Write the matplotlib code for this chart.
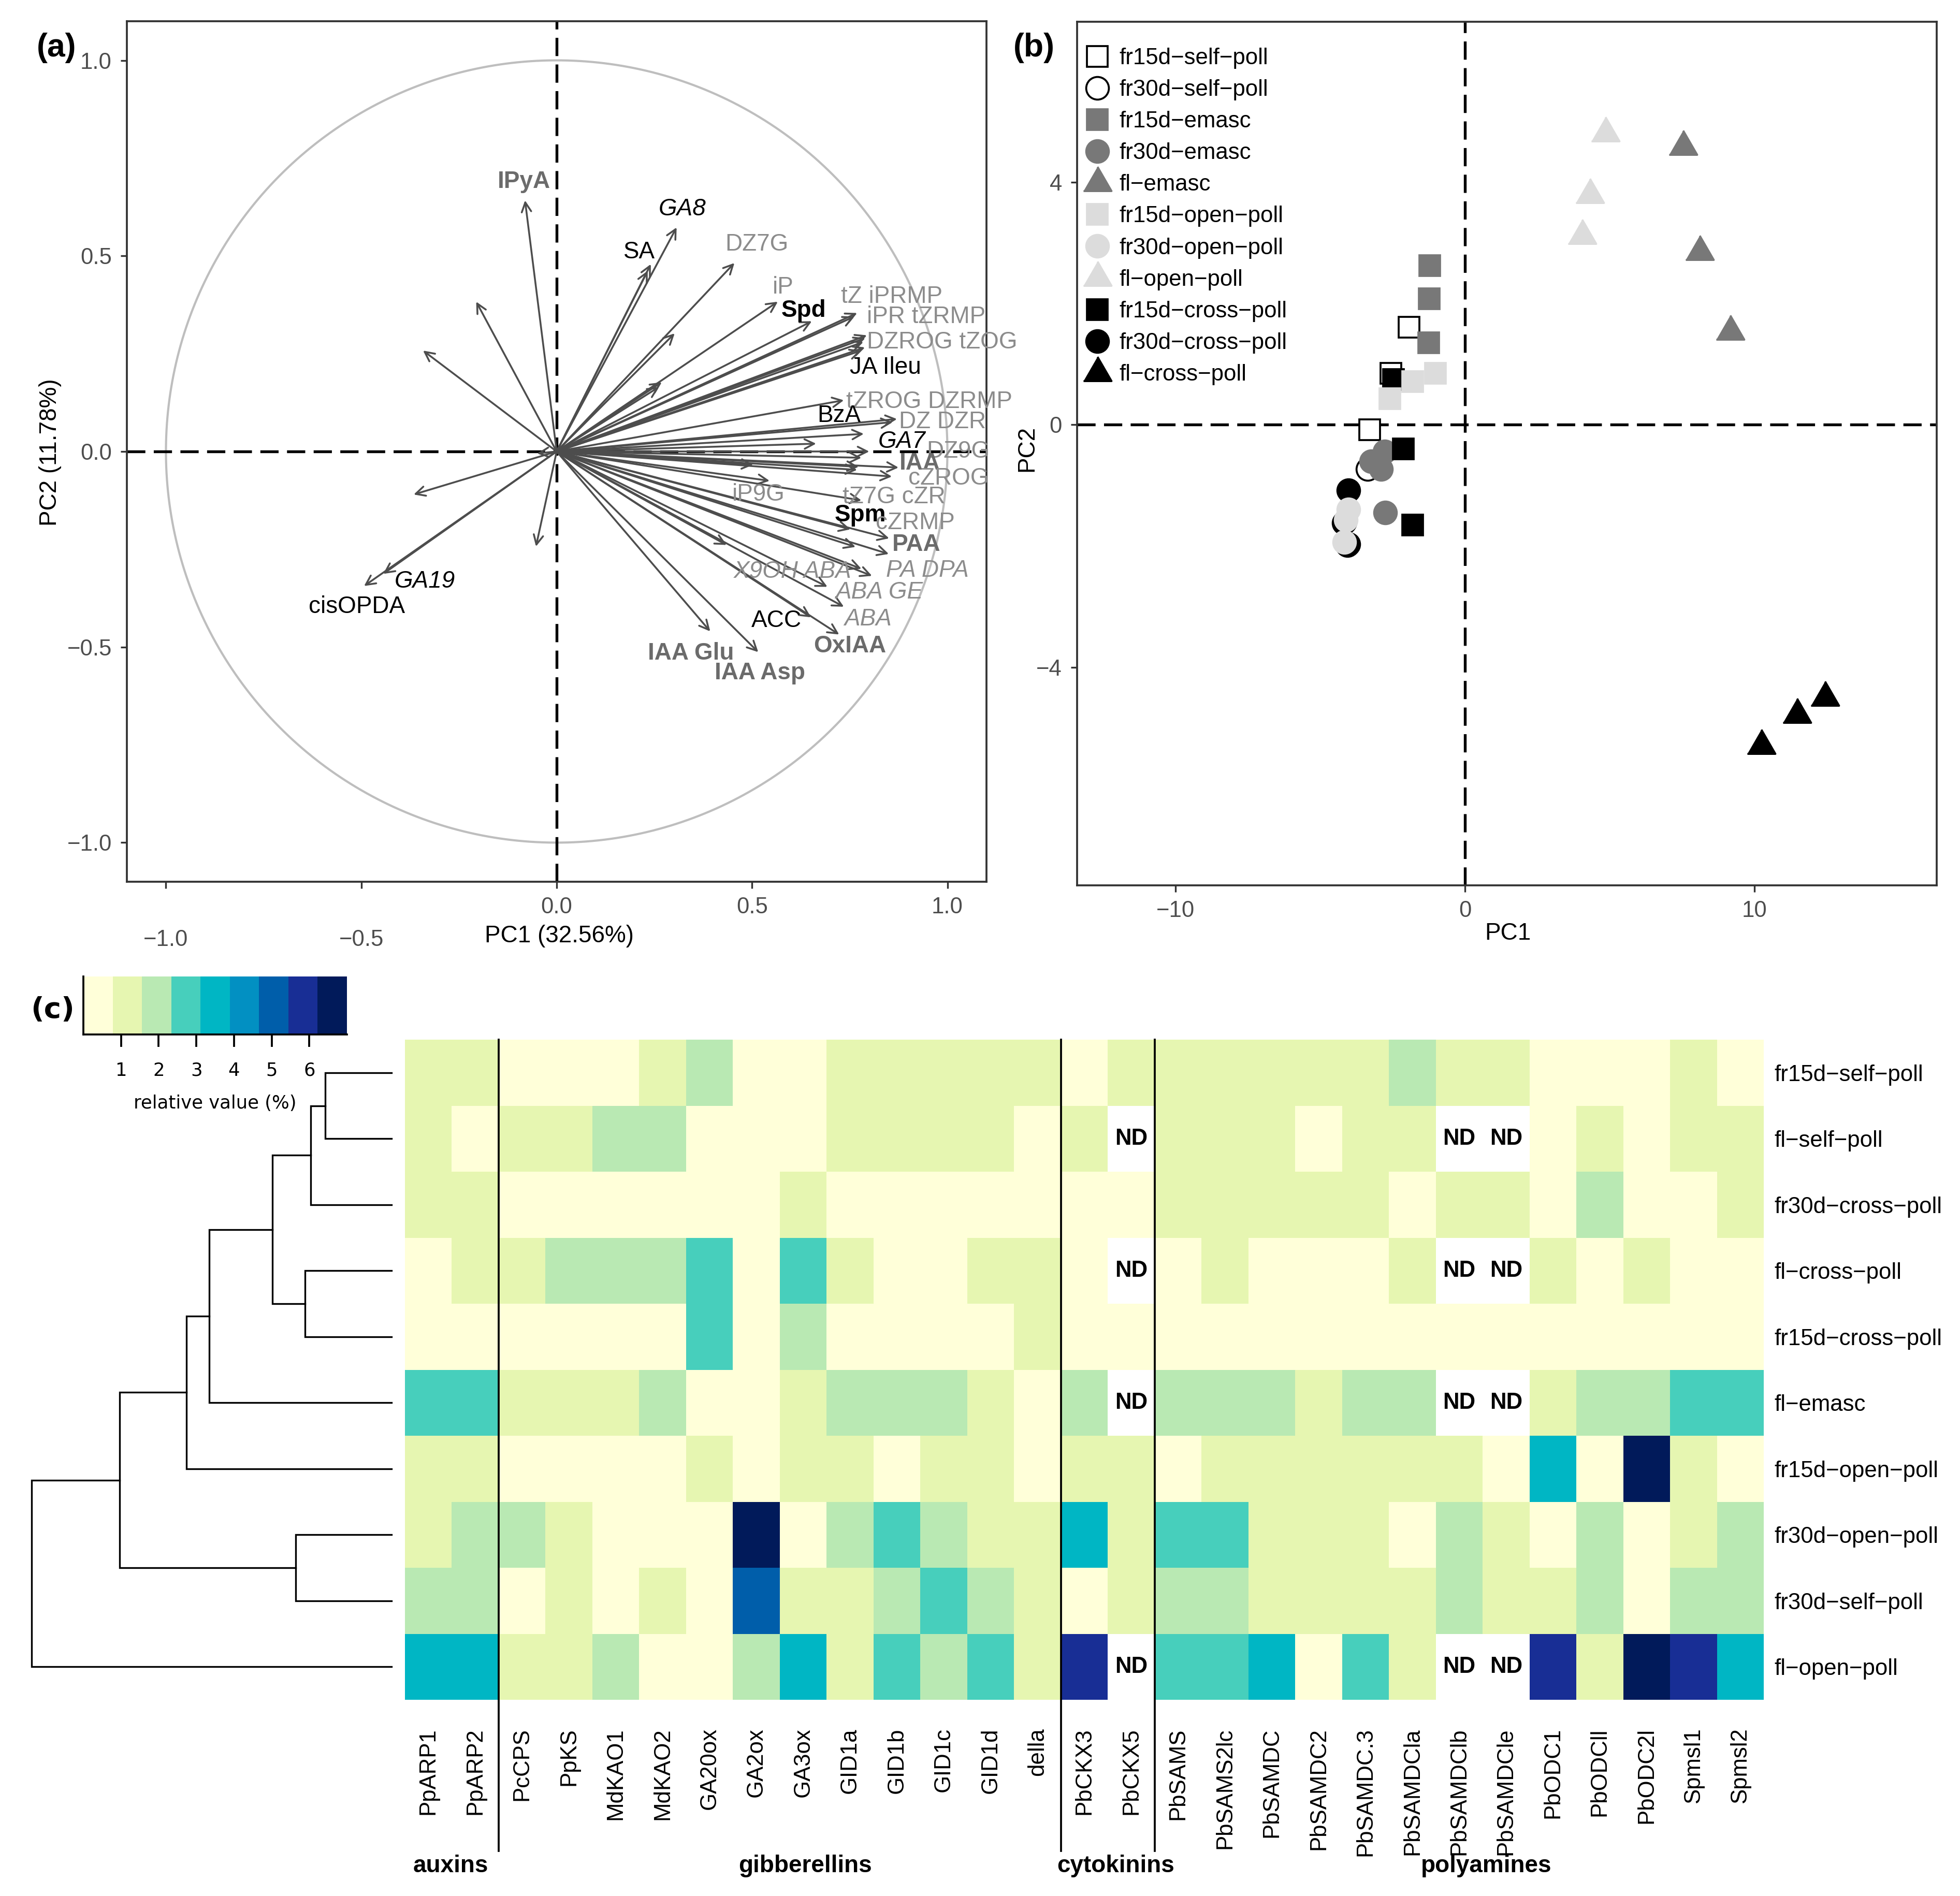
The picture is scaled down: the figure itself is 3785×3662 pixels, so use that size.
import numpy as np
import matplotlib
matplotlib.use('Agg')
import matplotlib.pyplot as plt
from matplotlib.colors import ListedColormap, BoundaryNorm
from matplotlib.lines import Line2D
import matplotlib.transforms as mtransforms

plt.rcParams['font.family'] = ['Liberation Sans', 'DejaVu Sans']
plt.rcParams['font.size'] = 10.5
plt.rcParams['axes.unicode_minus'] = True

# ---------------- Panel (a): loadings ----------------
arrow_pc1 = [-0.081, -0.206, -0.342, -0.366, -0.053, -0.444, -0.493, -0.05,
             0.307, 0.241, 0.233, 0.455, 0.302, 0.269, 0.262, 0.566, 0.653,
             0.769, 0.762, 0.794, 0.790, 0.785, 0.789, 0.780, 0.735, 0.871,
             0.860, 0.786, 0.664, 0.800, 0.780, 0.875, 0.773, 0.858, 0.769,
             0.545, 0.503, 0.780, 0.752, 0.851, 0.850, 0.765, 0.807, 0.780,
             0.435, 0.693, 0.735, 0.651, 0.723, 0.393, 0.516]
arrow_pc2 = [0.642, 0.383, 0.258, -0.110, -0.243, -0.313, -0.344, -0.005,
             0.573, 0.479, 0.462, 0.482, 0.302, 0.177, 0.165, 0.383, 0.333,
             0.354, 0.345, 0.297, 0.290, 0.280, 0.266, 0.258, 0.131, 0.083,
             0.075, 0.045, 0.020, 0.000, -0.016, -0.041, -0.039, -0.064, -0.047,
             -0.075, -0.034, -0.125, -0.199, -0.222, -0.262, -0.244, -0.318, -0.300,
             -0.239, -0.346, -0.397, -0.424, -0.468, -0.460, -0.513]

label_text = ['IPyA', 'GA8', 'SA', 'DZ7G', 'iP', 'Spd', 'tZ iPRMP', 'iPR tZRMP',
              'DZROG tZOG', 'JA Ileu', 'tZROG DZRMP', 'BzA', 'DZ DZR', 'GA7',
              'DZ9G', 'IAA', 'cZROG', 'iP9G', 'tZ7G cZR', 'Spm', 'cZRMP', 'PAA',
              'PA DPA', 'X9OH ABA', 'ABA GE', 'ABA', 'ACC', 'OxIAA', 'IAA Glu',
              'IAA Asp', 'GA19', 'cisOPDA']
label_pc1 = [-0.083, 0.322, 0.211, 0.512, 0.579, 0.632, 0.858, 0.946,
             0.987, 0.842, 0.954, 0.723, 0.987, 0.884,
             1.028, 0.929, 1.003, 0.516, 0.863, 0.777, 0.917, 0.921,
             0.949, 0.604, 0.825, 0.797, 0.563, 0.751, 0.343,
             0.520, -0.338, -0.512]
label_pc2 = [0.689, 0.620, 0.509, 0.529, 0.419, 0.360, 0.396, 0.344,
             0.279, 0.214, 0.127, 0.091, 0.075, 0.025,
             0.000, -0.031, -0.069, -0.110, -0.116, -0.163, -0.183, -0.238,
             -0.304, -0.307, -0.360, -0.429, -0.433, -0.498, -0.516,
             -0.566, -0.332, -0.397]
label_class = ['gb', 'ki', 'k', 'lg', 'lg', 'kb', 'lg', 'lg',
               'lg', 'k', 'lg', 'k', 'lg', 'ki',
               'lg', 'gb', 'lg', 'lg', 'lg', 'kb', 'lg', 'gb',
               'li', 'li', 'li', 'li', 'k', 'gb', 'gb',
               'gb', 'ki', 'k']

# ---------------- Panel (b): scores ----------------
group_names = ['fr15d−self−poll', 'fr30d−self−poll', 'fr15d−emasc', 'fr30d−emasc',
               'fl−emasc', 'fr15d−open−poll', 'fr30d−open−poll', 'fl−open−poll',
               'fr15d−cross−poll', 'fr30d−cross−poll', 'fl−cross−poll']
group_pc1 = [[-1.93, -2.56, -3.30], [-3.37, -4.15, -4.02], [-1.21, -1.23, -1.26],
             [-2.77, -3.24, -2.90, -2.75], [7.54, 8.11, 9.16], [-1.02, -1.81, -2.59],
             [-4.02, -4.12, -4.17], [4.85, 4.31, 4.05], [-2.47, -2.12, -1.80],
             [-4.03, -4.06, -4.18], [12.44, 11.47, 10.23]]
group_pc2 = [[1.61, 0.85, -0.08], [-0.73, -1.60, -1.97], [2.63, 2.08, 1.35],
             [-0.44, -0.60, -0.73, -1.45], [4.59, 2.86, 1.54], [0.85, 0.71, 0.43],
             [-1.40, -1.57, -1.94], [4.81, 3.80, 3.12], [0.75, -0.40, -1.65],
             [-1.08, -1.99, -1.62], [-4.50, -4.78, -5.29]]

# ---------------- Panel (c): heatmap ----------------
row_names = ['fr15d−self−poll', 'fl−self−poll', 'fr30d−cross−poll', 'fl−cross−poll',
             'fr15d−cross−poll', 'fl−emasc', 'fr15d−open−poll', 'fr30d−open−poll',
             'fr30d−self−poll', 'fl−open−poll']
auxin_genes = ['PpARP1', 'PpARP2']
gib_genes = ['PcCPS', 'PpKS', 'MdKAO1', 'MdKAO2', 'GA20ox', 'GA2ox', 'GA3ox',
             'GID1a', 'GID1b', 'GID1c', 'GID1d', 'della']
cyt_genes = ['PbCKX3', 'PbCKX5']
poly_genes = ['PbSAMS', 'PbSAMS2lc', 'PbSAMDC', 'PbSAMDC2', 'PbSAMDC.3', 'PbSAMDCla',
              'PbSAMDClb', 'PbSAMDCle', 'PbODC1', 'PbODCll', 'PbODC2l', 'Spmsl1', 'Spmsl2']
ND = np.nan
auxin_vals = [[1.2, 1.2], [1.2, 0.4], [1.2, 1.2], [0.4, 1.2], [0.4, 0.4],
              [2.7, 2.7], [1.2, 1.2], [1.2, 1.9], [1.9, 1.9], [3.5, 3.5]]
gib_vals = [[0.4, 0.4, 0.4, 1.2, 1.9, 0.4, 0.4, 1.2, 1.2, 1.2, 1.2, 1.2],
            [1.2, 1.2, 1.9, 1.9, 0.4, 0.4, 0.4, 1.2, 1.2, 1.2, 1.2, 0.4],
            [0.4, 0.4, 0.4, 0.4, 0.4, 0.4, 1.2, 0.4, 0.4, 0.4, 0.4, 0.4],
            [1.2, 1.9, 1.9, 1.9, 2.7, 0.4, 2.7, 1.2, 0.4, 0.4, 1.2, 1.2],
            [0.4, 0.4, 0.4, 0.4, 2.7, 0.4, 1.9, 0.4, 0.4, 0.4, 0.4, 1.2],
            [1.2, 1.2, 1.2, 1.9, 0.4, 0.4, 1.2, 1.9, 1.9, 1.9, 1.2, 0.4],
            [0.4, 0.4, 0.4, 0.4, 1.2, 0.4, 1.2, 1.2, 0.4, 1.2, 1.2, 0.4],
            [1.9, 1.2, 0.4, 0.4, 0.4, 6.6, 0.4, 1.9, 2.7, 1.9, 1.2, 1.2],
            [0.4, 1.2, 0.4, 1.2, 0.4, 5.1, 1.2, 1.2, 1.9, 2.7, 1.9, 1.2],
            [1.2, 1.2, 1.9, 0.4, 0.4, 1.9, 3.5, 1.2, 2.7, 1.9, 2.7, 1.2]]
cyt_vals = [[0.4, 1.2], [1.2, ND], [0.4, 0.4], [0.4, ND], [0.4, 0.4],
            [1.9, ND], [1.2, 1.2], [3.5, 1.2], [0.4, 1.2], [5.8, ND]]
poly_vals = [[1.2, 1.2, 1.2, 1.2, 1.2, 1.9, 1.2, 1.2, 0.4, 0.4, 0.4, 1.2, 0.4],
             [1.2, 1.2, 1.2, 0.4, 1.2, 1.2, ND, ND, 0.4, 1.2, 0.4, 1.2, 1.2],
             [1.2, 1.2, 1.2, 1.2, 1.2, 0.4, 1.2, 1.2, 0.4, 1.9, 0.4, 0.4, 1.2],
             [0.4, 1.2, 0.4, 0.4, 0.4, 1.2, ND, ND, 1.2, 0.4, 1.2, 0.4, 0.4],
             [0.4, 0.4, 0.4, 0.4, 0.4, 0.4, 0.4, 0.4, 0.4, 0.4, 0.4, 0.4, 0.4],
             [1.9, 1.9, 1.9, 1.2, 1.9, 1.9, ND, ND, 1.2, 1.9, 1.9, 2.7, 2.7],
             [0.4, 1.2, 1.2, 1.2, 1.2, 1.2, 1.2, 0.4, 3.5, 0.4, 6.6, 1.2, 0.4],
             [2.7, 2.7, 1.2, 1.2, 1.2, 0.4, 1.9, 1.2, 0.4, 1.9, 0.4, 1.2, 1.9],
             [1.9, 1.9, 1.2, 1.2, 1.2, 1.2, 1.9, 1.2, 1.2, 1.9, 0.4, 1.9, 1.9],
             [2.7, 2.7, 3.5, 0.4, 2.7, 1.2, ND, ND, 5.8, 1.2, 6.6, 5.8, 3.5]]
group_labels = ['auxins', 'gibberellins', 'cytokinins', 'polyamines']

# dendrogram merges: (left node, right node, height); leaves 0..9 in row order
dendro_merges = [(0, 1, 0.184), (10, 2, 0.224), (3, 4, 0.240), (11, 12, 0.331),
                 (13, 5, 0.506), (14, 6, 0.570), (7, 8, 0.266), (15, 16, 0.755),
                 (17, 9, 1.0)]

heat_colors = ['#FFFFD9', '#E6F6B1', '#B9E9B3', '#47CFBC', '#00B6C4',
               '#0290C2', '#005EAA', '#182E95', '#011A5A']
heat_bounds = np.linspace(0, 7, 10)

# ---------------- figure ----------------
W, H, DPI = 3786, 3662, 300
fig = plt.figure(figsize=(W / DPI, H / DPI), dpi=DPI)


def rect(x0, y0, x1, y1):
    return [x0 / W, 1 - y1 / H, (x1 - x0) / W, (y1 - y0) / H]


TICKC = '#4D4D4D'

# ---- (a)
axa = fig.add_axes(rect(245, 41, 1905, 1703))
axa.set_xlim(-1.1, 1.1)
axa.set_ylim(-1.1, 1.1)
t = np.linspace(0, 2 * np.pi, 400)
axa.plot(np.cos(t), np.sin(t), color='#BEBEBE', lw=1.0, zorder=1)
axa.axhline(0, color='black', lw=1.3, ls=(0, (6.5, 3)), zorder=2)
axa.axvline(0, color='black', lw=1.3, ls=(0, (6.5, 3)), zorder=2)
for x, y in zip(arrow_pc1, arrow_pc2):
    axa.annotate('', xy=(x, y), xytext=(0, 0),
                 arrowprops=dict(arrowstyle='->', color='#4D4D4D', lw=0.85,
                                 shrinkA=0, shrinkB=0, mutation_scale=11),
                 zorder=3)
styles = {'k': ('black', 'normal', 'normal'),
          'kb': ('black', 'bold', 'normal'),
          'ki': ('black', 'normal', 'italic'),
          'gb': ('#6B6B6B', 'bold', 'normal'),
          'lg': ('#8C8C8C', 'normal', 'normal'),
          'li': ('#8C8C8C', 'normal', 'italic')}
for s, x, y, c in zip(label_text, label_pc1, label_pc2, label_class):
    col, wt, st = styles[c]
    axa.text(x, y, s, color=col, fontweight=wt, fontstyle=st, fontsize=11,
             ha='center', va='center', zorder=4)
axa.set_xticks([-1, -0.5, 0, 0.5, 1])
axa.set_xticklabels(['', '', '0.0', '0.5', '1.0'])
axa.set_yticks([-1, -0.5, 0, 0.5, 1])
axa.set_yticklabels(['−1.0', '−0.5', '0.0', '0.5', '1.0'])
for xv, lab in [(-1, '−1.0'), (-0.5, '−0.5')]:
    axa.annotate(lab, xy=(xv, 0), xycoords=('data', 'axes fraction'),
                 xytext=(0, -27.0), textcoords='offset points',
                 ha='center', va='center', color=TICKC, fontsize=10.5,
                 annotation_clip=False)
axa.tick_params(direction='out', length=3, width=0.8, color='#333333',
                labelcolor=TICKC, labelsize=10.5, pad=4)
for sp in axa.spines.values():
    sp.set_color('#333333')
    sp.set_linewidth(0.9)
axa.text(0.503, -0.0632, 'PC1 (32.56%)', transform=axa.transAxes,
         ha='center', va='center', fontsize=11)
axa.text(-0.089, 0.499, 'PC2 (11.78%)', transform=axa.transAxes,
         ha='center', va='center', fontsize=11, rotation=90)

# ---- (b)
axb = fig.add_axes(rect(2080, 42, 3740, 1710))
axb.set_xlim(-13.4, 16.3)
axb.set_ylim(-7.6, 6.65)
axb.axhline(0, color='black', lw=1.3, ls=(0, (6.5, 3)), zorder=1)
axb.axvline(0, color='black', lw=1.3, ls=(0, (6.5, 3)), zorder=1)
tri = [(-1, -0.577), (1, -0.577), (0, 1.155)]
shape = {'fr15d': ('s', 9.8), 'fr30d': ('o', 10.5), 'fl': (tri, 15)}
fills = {'self': ('white', 'black'), 'emasc': ('#787878', '#787878'),
         'open': ('#DCDCDC', '#DCDCDC'), 'cross': ('black', 'black')}


def group_style(name):
    parts = name.split('−')
    mk, ms = shape[parts[0]]
    fc, ec = fills[parts[1]]
    return mk, ms, fc, ec


draw_order = [0, 1, 2, 3, 4, 8, 9, 10, 5, 6, 7]
for gi in draw_order:
    mk, ms, fc, ec = group_style(group_names[gi])
    axb.plot(group_pc1[gi], group_pc2[gi], ls='none', marker=mk, markersize=ms,
             markerfacecolor=fc, markeredgecolor=ec, markeredgewidth=0.9, zorder=3)
handles = []
for name in group_names:
    mk, ms, fc, ec = group_style(name)
    handles.append(Line2D([], [], ls='none', marker=mk, markersize=ms,
                          markerfacecolor=fc, markeredgecolor=ec, markeredgewidth=0.9))
axb.legend(handles, group_names, loc='upper left', bbox_to_anchor=(0.0, 0.978),
           frameon=False, fontsize=10.5, handletextpad=0.35, labelspacing=0.46,
           borderaxespad=0.0, borderpad=0.3, handlelength=1.2)
axb.set_xticks([-10, 0, 10])
axb.set_yticks([-4, 0, 4])
axb.tick_params(direction='out', length=3, width=0.8, color='#333333',
                labelcolor=TICKC, labelsize=10.5, pad=4)
for sp in axb.spines.values():
    sp.set_color('#333333')
    sp.set_linewidth(0.9)
axb.text(0.501, -0.0558, 'PC1', transform=axb.transAxes, ha='center',
         va='center', fontsize=11)
axb.text(-0.0584, 0.506, 'PC2', transform=axb.transAxes, ha='center',
         va='center', fontsize=11, rotation=90)

# ---- (c) heatmap
genes = auxin_genes + gib_genes + cyt_genes + poly_genes
mat = np.hstack([np.array(auxin_vals), np.array(gib_vals),
                 np.array(cyt_vals), np.array(poly_vals)])
nrow, ncol = mat.shape
cmap = ListedColormap(heat_colors)
cmap.set_bad('white')
norm = BoundaryNorm(heat_bounds, cmap.N)

axh = fig.add_axes(rect(782, 2008, 3406, 3283))
axh.pcolormesh(np.arange(ncol + 1), np.arange(nrow + 1),
               np.ma.masked_invalid(mat), cmap=cmap, norm=norm,
               edgecolors='none', antialiased=False)
axh.set_xlim(0, ncol)
axh.set_ylim(nrow, 0)
for sp in axh.spines.values():
    sp.set_visible(False)
axh.set_xticks(np.arange(ncol) + 0.5)
axh.set_xticklabels(genes, rotation=90, fontsize=10.5)
axh.yaxis.tick_right()
axh.set_yticks(np.arange(nrow) + 0.5)
axh.set_yticklabels(row_names, fontsize=10.5)
axh.tick_params(axis='x', length=0, pad=13)
axh.tick_params(axis='y', length=0, pad=5)
for i in range(nrow):
    for j in range(ncol):
        if np.isnan(mat[i, j]):
            axh.text(j + 0.5, i + 0.5, 'ND', ha='center', va='center',
                     fontweight='bold', fontsize=10.5, color='black')
trans = mtransforms.blended_transform_factory(axh.transData, axh.transAxes)
group_sizes = [len(auxin_genes), len(gib_genes), len(cyt_genes), len(poly_genes)]
edges = np.cumsum([0] + group_sizes)
for e in edges[1:-1]:
    axh.plot([e, e], [1, -0.229], transform=trans, color='black', lw=0.9,
             clip_on=False, zorder=5)
group_label_x = [0.98, 8.54, 15.17, 23.08]
for gx, gl in zip(group_label_x, group_labels):
    axh.text(gx, -0.252, gl, transform=trans, ha='center', va='center',
             fontweight='bold', fontsize=11)

# dendrogram
axd = fig.add_axes(rect(61, 2008, 756, 3283))
axd.set_xlim(1.0, 0)
axd.set_ylim(nrow, 0)
axd.axis('off')
node_y = {i: i + 0.5 for i in range(nrow)}
node_h = {i: 0.0 for i in range(nrow)}
for k, (a, b, h) in enumerate(dendro_merges):
    nid = nrow + k
    axd.plot([node_h[a], h, h, node_h[b]], [node_y[a], node_y[a], node_y[b], node_y[b]],
             color='black', lw=0.8, solid_joinstyle='miter', clip_on=False)
    node_y[nid] = (node_y[a] + node_y[b]) / 2
    node_h[nid] = h

# colour key
axc = fig.add_axes(rect(161, 1886, 670, 1998))
axc.pcolormesh(heat_bounds, [0, 1], ((heat_bounds[:-1] + heat_bounds[1:]) / 2)[None, :],
               cmap=cmap, norm=norm)
axc.set_xlim(0, 7)
axc.set_ylim(0, 1)
axc.spines['top'].set_visible(False)
axc.spines['right'].set_visible(False)
axc.spines['left'].set_linewidth(0.9)
axc.spines['bottom'].set_linewidth(0.9)
axc.set_yticks([])
axc.set_xticks([1, 2, 3, 4, 5, 6])
axc.set_xticklabels(['1', '2', '3', '4', '5', '6'], family='DejaVu Sans', fontsize=8.5)
axc.tick_params(axis='x', direction='out', length=5.7, width=0.9, pad=7)
axc.set_xlabel('relative value (%)', family='DejaVu Sans', fontsize=8.5, labelpad=7)

# panel letters
fig.text(109 / W, 1 - 92 / H, '(a)', fontweight='bold', fontsize=15, ha='center', va='center')
fig.text(1997 / W, 1 - 92 / H, '(b)', fontweight='bold', fontsize=15, ha='center', va='center')
fig.text(102 / W, 1 - 1951 / H, '(c)', fontweight='bold', fontsize=13.5, ha='center',
         va='center', family='DejaVu Sans')

fig.savefig('out.png', dpi=DPI, facecolor='white')
